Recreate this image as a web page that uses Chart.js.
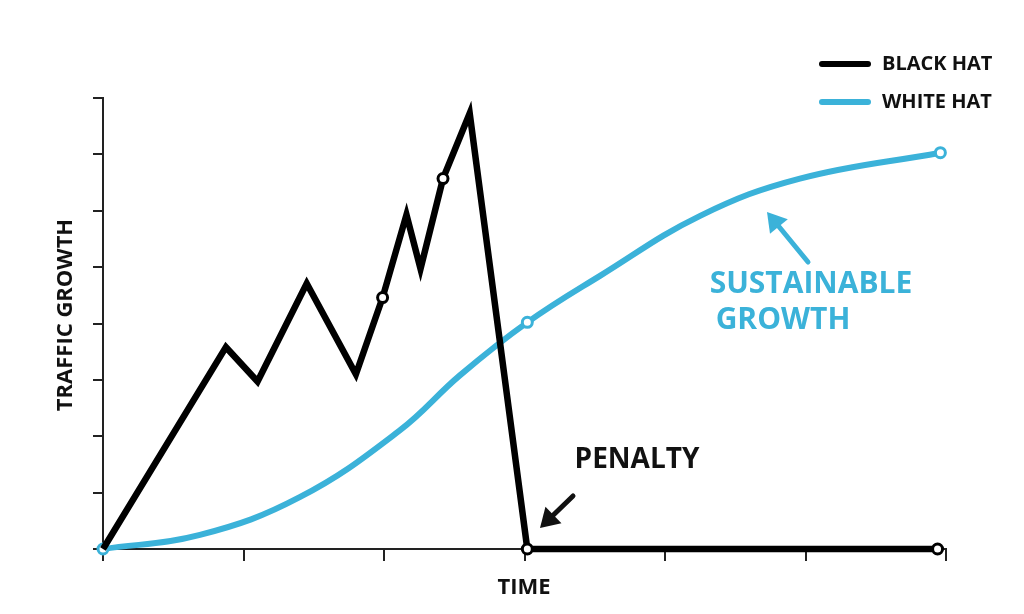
<!DOCTYPE html>
<html>
<head>
<meta charset="utf-8">
<script src="https://cdn.jsdelivr.net/npm/chart.js@4/dist/chart.umd.min.js"></script>
<style>
  body { margin: 0; background: #fff; }
  canvas { display: block; }
</style>
</head>
<body>
<canvas id="myChart" width="1024" height="614"></canvas>
<script>
const blackHatX = [0, 0.875, 1.10, 1.45, 1.80, 1.99, 2.16, 2.26, 2.42, 2.61, 3.02, 5.94];
const blackHatY = [0, 3.58, 2.97, 4.71, 3.10, 4.46, 5.93, 4.97, 6.57, 7.73, 0, 0];
const blackHatMarked = [5, 8, 10, 11];

const whiteHatX = [0, 0.69, 1.40, 2.11, 2.54, 3.02, 3.54, 4.25, 4.96, 5.96];
const whiteHatY = [0, 0.25, 0.92, 2.10, 3.08, 4.02, 4.85, 5.91, 6.57, 7.03];
const whiteHatMarked = [0, 5, 9];

const BLUE = '#3bb2d9';
const FONT = "'Open Sans', 'DejaVu Sans', sans-serif";

function toPoints(xs, ys) {
    return xs.map((x, i) => ({ x: x, y: ys[i] }));
}

// annotations, legend and axis titles drawn on top
const extras = {
    id: 'extras',
    afterDraw(chart) {
        const c = chart.ctx;
        c.save();
        c.lineCap = 'round';
        // legend
        c.lineWidth = 6;
        c.strokeStyle = '#000';
        c.beginPath(); c.moveTo(822, 64); c.lineTo(868, 64); c.stroke();
        c.strokeStyle = BLUE;
        c.beginPath(); c.moveTo(822, 102); c.lineTo(868, 102); c.stroke();
        c.fillStyle = '#111';
        c.font = "bold 20px " + FONT;
        c.textBaseline = 'middle';
        c.fillText('BLACK HAT', 882, 64);
        c.fillText('WHITE HAT', 882, 102);

        // axis titles
        c.font = "bold 22px " + FONT;
        c.textAlign = 'center';
        c.fillText('TIME', 524, 588);
        c.save();
        c.translate(66, 315);
        c.rotate(-Math.PI / 2);
        c.fillText('TRAFFIC GROWTH', 0, 0);
        c.restore();

        // penalty
        c.font = "bold 28px " + FONT;
        c.fillText('PENALTY', 637, 460);
        drawArrow(c, 573, 496, 540, 528, '#111');

        // sustainable growth
        c.fillStyle = BLUE;
        c.font = "bold 30px " + FONT;
        c.fillText('SUSTAINABLE', 811, 284);
        c.fillText('GROWTH', 783, 320);
        drawArrow(c, 808, 262, 767, 212, BLUE);
        c.restore();
    }
};

function drawArrow(c, x1, y1, x2, y2, color) {
    const a = Math.atan2(y2 - y1, x2 - x1);
    c.strokeStyle = color;
    c.fillStyle = color;
    c.lineWidth = 5;
    c.beginPath(); c.moveTo(x1, y1); c.lineTo(x2 - 10 * Math.cos(a), y2 - 10 * Math.sin(a)); c.stroke();
    c.beginPath();
    c.moveTo(x2, y2);
    c.lineTo(x2 - 22 * Math.cos(a - 0.55), y2 - 22 * Math.sin(a - 0.55));
    c.lineTo(x2 - 22 * Math.cos(a + 0.55), y2 - 22 * Math.sin(a + 0.55));
    c.closePath();
    c.fill();
}

new Chart(document.getElementById('myChart'), {
    type: 'line',
    data: {
        datasets: [{
            label: 'WHITE HAT',
            data: toPoints(whiteHatX, whiteHatY),
            borderColor: BLUE,
            borderWidth: 6,
            tension: 0.4,
            pointRadius: whiteHatX.map((_, i) => whiteHatMarked.includes(i) ? 5 : 0),
            pointBackgroundColor: '#fff',
            pointBorderColor: BLUE,
            pointBorderWidth: 3,
            order: 2
        }, {
            label: 'BLACK HAT',
            data: toPoints(blackHatX, blackHatY),
            borderColor: '#000',
            borderWidth: 6.5,
            borderJoinStyle: 'miter',
            tension: 0,
            pointRadius: blackHatX.map((_, i) => blackHatMarked.includes(i) ? 5 : 0),
            pointBackgroundColor: '#fff',
            pointBorderColor: '#000',
            pointBorderWidth: 3,
            order: 1
        }]
    },
    options: {
        responsive: false,
        animation: false,
        clip: false,
        layout: { padding: { left: 93, right: 78, top: 98, bottom: 53 } },
        scales: {
            x: {
                type: 'linear', min: 0, max: 6,
                ticks: { display: false, stepSize: 1 },
                grid: { drawOnChartArea: false, tickLength: 12, color: '#222', lineWidth: 2 },
                border: { color: '#222', width: 2 }
            },
            y: {
                min: 0, max: 8,
                ticks: { display: false, stepSize: 1 },
                grid: { drawOnChartArea: false, tickLength: 10, color: '#222', lineWidth: 2 },
                border: { color: '#222', width: 2 }
            }
        },
        plugins: { legend: { display: false }, tooltip: { enabled: false } }
    },
    plugins: [extras]
});
</script>
</body>
</html>
